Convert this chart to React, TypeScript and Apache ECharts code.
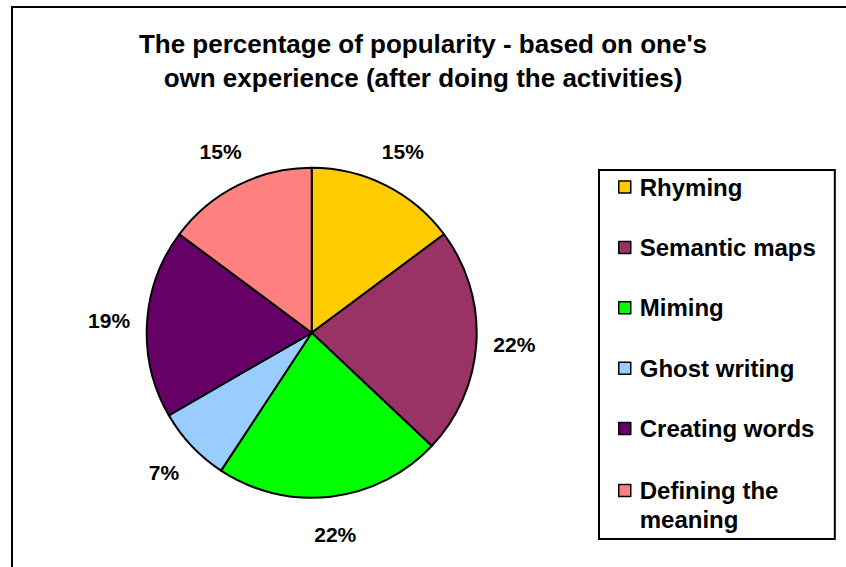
import React, { useEffect, useRef } from "react";
import * as echarts from "echarts";

const categories = [
  "Rhyming",
  "Semantic maps",
  "Miming",
  "Ghost writing",
  "Creating words",
  "Defining the meaning",
];
const legendLabels = [
  "Rhyming",
  "Semantic maps",
  "Miming",
  "Ghost writing",
  "Creating words",
  "Defining the\nmeaning",
];
const counts = [4, 6, 6, 2, 5, 4];
const colors = ["#FFCC00", "#993366", "#00FF00", "#99CCFF", "#660066", "#FF8080"];
const titleText =
  "The percentage of popularity - based on one's\nown experience (after doing the activities)";

const FONT = "'Liberation Sans', Arial, sans-serif";

export default function App() {
  const ref = useRef<HTMLDivElement>(null);
  useEffect(() => {
    if (!ref.current) return;
    const chart = echarts.init(ref.current, null, { renderer: "svg" });
    const data = categories.map((name, i) => ({
      name,
      value: counts[i],
      itemStyle: { color: colors[i] },
    }));
    const richFont = {
      fontFamily: FONT,
      fontSize: 24,
      fontWeight: "bold",
      color: "#000",
    };
    chart.setOption({
      animation: false,
      backgroundColor: "#ffffff",
      title: {
        text: titleText,
        left: "center",
        top: 27,
        padding: 0,
        textStyle: {
          fontFamily: FONT,
          fontSize: 26,
          fontWeight: "bold",
          color: "#000",
          lineHeight: 34,
        },
      },
      graphic: [
        {
          type: "rect",
          silent: true,
          z: -10,
          shape: { x: 12, y: 7, width: 900, height: 700 },
          style: { fill: "none", stroke: "#000", lineWidth: 2 },
        },
      ],
      legend: {
        orient: "vertical",
        left: 599,
        top: 170,
        padding: [2, 19, 8, 19],
        itemWidth: 12,
        itemHeight: 12,
        itemGap: 30.4,
        icon: "rect",
        borderColor: "#000",
        borderWidth: 2,
        selectedMode: false,
        itemStyle: { borderColor: "#000", borderWidth: 1.5 },
        textStyle: {
          fontFamily: FONT,
          fontSize: 24,
          fontWeight: "bold",
          color: "#000",
          lineHeight: 30,
          padding: [0, 0, 0, 4],
          rich: {
            f: { ...richFont, lineHeight: 33 },
            s: { ...richFont, lineHeight: 0, verticalAlign: "top" },
          },
        },
        data: categories,
        formatter: (name: string) => {
          const label = legendLabels[categories.indexOf(name)];
          if (label.indexOf("\n") < 0) return label;
          const [a, b] = label.split("\n");
          return "{f|" + a + "}\n{s|" + b + "}";
        },
      },
      series: [
        {
          type: "pie",
          center: [311.7, 332.8],
          radius: 165,
          startAngle: 90,
          clockwise: true,
          silent: true,
          label: { show: false },
          labelLine: { show: false },
          emphasis: { disabled: true },
          itemStyle: { borderColor: "#000", borderWidth: 2 },
          data,
        },
        {
          type: "pie",
          center: [311.7, 332.8],
          radius: [185, 215],
          startAngle: 90,
          clockwise: true,
          silent: true,
          emphasis: { disabled: true },
          itemStyle: { color: "rgba(0,0,0,0)", borderWidth: 0 },
          labelLine: { show: false },
          label: {
            show: true,
            position: "inside",
            formatter: (p: any) => Math.round(p.percent) + "%",
            fontFamily: FONT,
            fontSize: 21,
            fontWeight: "bold",
            color: "#000",
          },
          data: categories.map((name, i) => ({ name, value: counts[i] })),
        },
      ],
    });
    return () => chart.dispose();
  }, []);
  return (
    <div
      ref={ref}
      style={{ position: "absolute", left: 0, top: 0, width: 846, height: 567 }}
    />
  );
}
